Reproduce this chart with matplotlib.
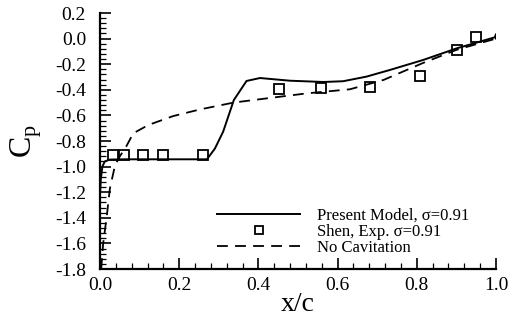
import matplotlib
matplotlib.use("Agg")
import matplotlib.pyplot as plt
from matplotlib.ticker import MultipleLocator
from matplotlib.lines import Line2D

plt.rcParams['font.family'] = ['Liberation Serif', 'DejaVu Serif']
plt.rcParams['mathtext.fontset'] = 'custom'
plt.rcParams['mathtext.rm'] = 'Liberation Serif'

# Present model (solid)
model_x = [0.0, 0.002, 0.006, 0.012, 0.025, 0.06, 0.15, 0.27, 0.29, 0.311, 0.338,
           0.37, 0.404, 0.44, 0.48, 0.564, 0.614, 0.673, 0.732, 0.816, 0.901, 0.997, 1.0, 1.0]
model_cp = [-1.22, -1.1, -1.0, -0.96, -0.945, -0.943, -0.943, -0.943, -0.86, -0.727, -0.48,
            -0.331, -0.308, -0.318, -0.329, -0.339, -0.333, -0.297, -0.245, -0.167, -0.076, 0.01, 0.035, 0.0]

# Shen experiment (squares)
exp_x = [0.032, 0.061, 0.109, 0.158, 0.261, 0.452, 0.559, 0.681, 0.809, 0.901, 0.949]
exp_cp = [-0.91, -0.91, -0.91, -0.91, -0.91, -0.394, -0.383, -0.378, -0.292, -0.091, 0.015]

# No cavitation (dashed)
nocav_x = [0.003, 0.008, 0.017, 0.025, 0.038, 0.05, 0.066, 0.084, 0.122, 0.185, 0.253,
           0.337, 0.421, 0.522, 0.631, 0.716, 0.816, 0.901, 1.0]
nocav_cp = [-1.8, -1.6, -1.39, -1.17, -0.99, -0.92, -0.844, -0.74, -0.675, -0.605, -0.553,
            -0.50, -0.467, -0.428, -0.396, -0.323, -0.19, -0.087, 0.0]

fig = plt.figure(figsize=(5.11, 3.21), dpi=100)
ax = fig.add_axes([100/511, 52/321, 396/511, 256/321])

ax.plot(model_x, model_cp, color='black', lw=1.4, solid_joinstyle='round')
ax.plot(exp_x, exp_cp, ls='none', marker='s', ms=6.5, mfc='none', mec='black', mew=1.3)
ax.plot(nocav_x, nocav_cp, color='black', lw=1.3, dashes=(6, 4))

ax.set_xlim(0, 1.0)
ax.set_ylim(-1.8, 0.2)
ax.xaxis.set_major_locator(MultipleLocator(0.2))
ax.xaxis.set_minor_locator(MultipleLocator(0.04))
ax.yaxis.set_major_locator(MultipleLocator(0.2))
ax.yaxis.set_minor_locator(MultipleLocator(0.04))
ax.xaxis.set_major_formatter(matplotlib.ticker.FormatStrFormatter('%.1f'))
ax.yaxis.set_major_formatter(matplotlib.ticker.FormatStrFormatter('%.1f'))

for s in ['top', 'right']:
    ax.spines[s].set_visible(False)
for s in ['left', 'bottom']:
    ax.spines[s].set_linewidth(1.6)

ax.tick_params(which='major', direction='in', length=8, width=1.2, labelsize=14)
ax.tick_params(which='minor', direction='in', length=4, width=0.9)
ax.tick_params(axis='y', which='major', pad=10)
ax.tick_params(axis='x', which='major', pad=6)

ax.set_xlabel('x/c', fontsize=20, labelpad=-2)
ax.set_ylabel(r'C$_{\rm p}$', fontsize=23, labelpad=8)

handles = [Line2D([], [], color='black', lw=1.4),
           Line2D([], [], ls='none', marker='s', ms=6, mfc='none', mec='black', mew=1.3),
           Line2D([], [], color='black', lw=1.3, dashes=(6, 4))]
labels = ['Present Model, σ=0.91', 'Shen, Exp. σ=0.91', 'No Cavitation']
ax.legend(handles, labels, loc='upper left', bbox_to_anchor=(0.279, 0.265),
          frameon=False, fontsize=12, handlelength=5.0, handletextpad=1.0,
          labelspacing=0.0, borderaxespad=0)

fig.savefig('out.png', dpi=100)
